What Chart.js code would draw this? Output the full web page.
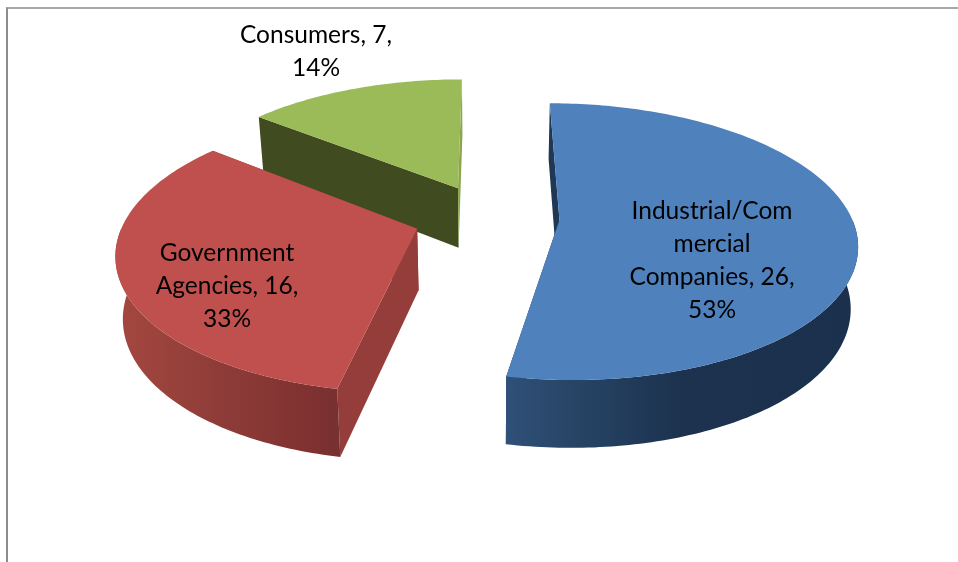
<!DOCTYPE html>
<html>
<head>
<meta charset="utf-8">
<title>Customers by type</title>
<script src="https://cdn.jsdelivr.net/npm/chart.js@4/dist/chart.umd.min.js"></script>
<style>
    html, body { margin: 0; padding: 0; background: #fff; }
    #frame {
        position: absolute; left: 6px; top: 7px; width: 952px; height: 555px;
        border-top: 2px solid #a8a8a8; border-left: 2px solid #8c8c8c;
    }
    #pie { position: absolute; left: 0; top: 0; }
</style>
</head>
<body>
<div id="frame"></div>
<canvas id="pie" width="958" height="562"></canvas>
<script>
const categories = ['Industrial/Commercial Companies', 'Government Agencies', 'Consumers'];
const values = [26, 16, 7];
const nameLines = [['Industrial/Com', 'mercial', 'Companies'], ['Government', 'Agencies'], ['Consumers']];
const labelCentres = [[712, 211], [227, 253], [316, 35]];

const topColours = ['#4f81bd', '#c0504d', '#9bbb59'];
const startFaceColours = ['#1f3855', '#953d3a', '#404b20'];
const endFaceColours = ['#1f3855', '#953d3a', '#8aa64f'];
const wallStops = [
    [[0, '#2f5079'], [0.15, '#294769'], [0.5, '#1c324f'], [1, '#1b304c']],
    [[0, '#a4483f'], [0.5, '#8d3b38'], [0.85, '#803230'], [1, '#773030']],
    [[0, '#404b20'], [1, '#404b20']]
];

// tilted view of the pie plane, in units of the arc radius
const view = { xScale: 1.465, yScale: 0.675, perspective: 0.156, lift: -0.023, wall: 61, wallFade: 0.1, baseShrink: 0.98 };

const total = values.reduce((a, b) => a + b, 0);

function project(arc, u, v, z) {
    const depth = v + view.lift;
    const s = 1 / (1 - view.perspective * depth);
    const r = arc.outerRadius;
    return {
        x: arc.x + r * view.xScale * u * s * (z ? view.baseShrink : 1),
        y: arc.y + r * view.yScale * depth * s + (z ? view.wall / (1 - view.wallFade * depth) : 0)
    };
}

function fillPath(ctx, points, fill) {
    ctx.beginPath();
    points.forEach((p, i) => (i ? ctx.lineTo(p.x, p.y) : ctx.moveTo(p.x, p.y)));
    ctx.closePath();
    ctx.fillStyle = fill;
    ctx.fill();
}

const pie3d = {
    id: 'pie3d',
    beforeDatasetDraw(chart) {
        const ctx = chart.ctx;
        const arcs = chart.getDatasetMeta(0).data;
        // back slice first, the largest front slice last
        [2, 1, 0].forEach(i => {
            const arc = arcs[i].getProps(['x', 'y', 'startAngle', 'endAngle', 'outerRadius']);
            arc.offset = arcs[i].options.offset;
            const mid = (arc.startAngle + arc.endAngle) / 2;
            const u0 = Math.cos(mid) * arc.offset / arc.outerRadius;
            const v0 = Math.sin(mid) * arc.offset / arc.outerRadius;

            const rim = [];
            const steps = Math.ceil((arc.endAngle - arc.startAngle) * 180 / Math.PI);
            for (let k = 0; k <= steps; k++) {
                rim.push(arc.startAngle + (arc.endAngle - arc.startAngle) * k / steps);
            }
            const at = (a, z) => project(arc, u0 + Math.cos(a), v0 + Math.sin(a), z);
            const apexTop = project(arc, u0, v0, 0);
            const apexBase = project(arc, u0, v0, 1);

            // cut faces
            fillPath(ctx, [at(arc.startAngle, 0), apexTop, apexBase, at(arc.startAngle, 1)], startFaceColours[i]);
            fillPath(ctx, [at(arc.endAngle, 0), apexTop, apexBase, at(arc.endAngle, 1)], endFaceColours[i]);

            // outer wall, only the part turned towards the viewer
            const front = rim.filter(a => Math.sin(a) > 0);
            if (front.length > 1) {
                const outline = front.map(a => at(a, 0)).concat(front.slice().reverse().map(a => at(a, 1)));
                const xs = outline.map(p => p.x);
                const grad = ctx.createLinearGradient(Math.min(...xs), 0, Math.max(...xs), 0);
                wallStops[i].forEach(s => grad.addColorStop(s[0], s[1]));
                fillPath(ctx, outline, grad);
            }

            // top face
            fillPath(ctx, [apexTop].concat(rim.map(a => at(a, 0))), topColours[i]);
        });
        return false;
    },
    afterDatasetsDraw(chart) {
        const ctx = chart.ctx;
        ctx.save();
        ctx.font = '24.5px Lato, "Open Sans", sans-serif';
        ctx.fillStyle = '#000';
        ctx.textAlign = 'center';
        ctx.textBaseline = 'middle';
        values.forEach((value, i) => {
            const lines = nameLines[i].slice();
            lines[lines.length - 1] += ', ' + value + ',';
            lines.push(Math.round(value / total * 100) + '%');
            lines.forEach((text, n) => {
                ctx.fillText(text, labelCentres[i][0], labelCentres[i][1] + n * 33);
            });
        });
        ctx.restore();
    }
};

new Chart(document.getElementById('pie').getContext('2d'), {
    type: 'pie',
    data: {
        labels: categories,
        datasets: [{
            data: values,
            backgroundColor: topColours,
            borderWidth: 0,
            offset: [49, 51, 49]
        }]
    },
    options: {
        responsive: false,
        animation: false,
        radius: 200,
        layout: { padding: { left: 18, bottom: 122 } },
        plugins: { legend: { display: false }, tooltip: { enabled: false } }
    },
    plugins: [pie3d]
});
</script>
</body>
</html>
